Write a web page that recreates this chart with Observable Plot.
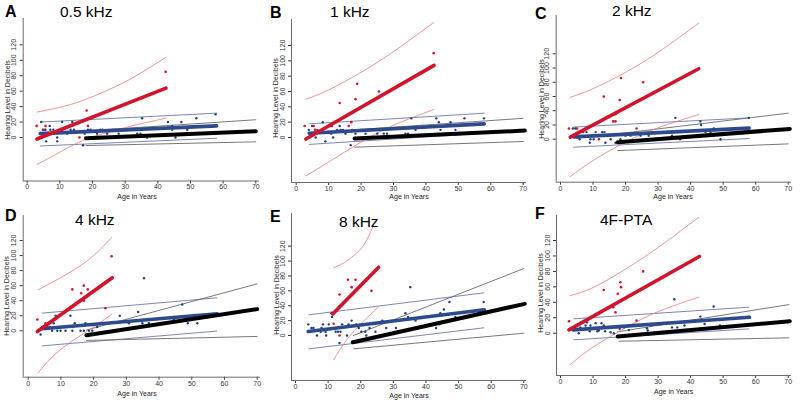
<!DOCTYPE html>
<html>
<head>
<meta charset="utf-8">
<script src="https://cdn.jsdelivr.net/npm/d3@7"></script>
<script src="https://cdn.jsdelivr.net/npm/@observablehq/plot@0.6"></script>
<style>
  html, body { margin: 0; padding: 0; background: #fff; }
  #wrap { position: relative; width: 800px; height: 400px; overflow: hidden; background: #fff;
          font-family: "Liberation Sans", Arial, sans-serif; }
  .panel { position: absolute; height: 200px; }
  .panel svg { position: absolute; left: 0; top: 0; }
  .lbl { position: absolute; white-space: nowrap; line-height: 1; color: #000; }
  .letter { font-weight: bold; font-size: 16px; }
  .sub { font-size: 15.5px; }
  .xt { font-size: 7px; color: #222; transform: translate(-50%, -50%); }
  .yt { font-size: 7px; color: #222; transform: translate(-50%, -50%) rotate(-90deg); }
</style>
</head>
<body>
<div id="wrap"></div>
<script>
// ---------- labels / ticks ----------
const panelIds = ["A", "B", "C", "D", "E", "F"];
const panelTitles = ["0.5  kHz", "1 kHz", "2 kHz", "4 kHz", "8 kHz", "4F-PTA"];
const xTitle = "Age in Years";
const yTitle = "Hearing Level in Decibels";
const xTicks = [0, 10, 20, 30, 40, 50, 60, 70];
const yTicks = [0, 20, 40, 60, 80, 100, 120];

// ---------- Panel A (0.5 kHz) : [age, dB] ----------
const A_red = [[2.9,15],[5.6,15],[5.2,10],[6.1,5],[16,0],[18.2,35],[18.6,15],[23,10],[42.4,85]];
const A_blue = [[4.3,20],[4.8,10],[5.6,10],[5.8,-5],[6.9,15],[7.1,10],[8,10],[8.2,5],[9.2,-5],[9.2,0],[10.7,20],[12.2,5],[13.3,10],[13.8,20],[14.3,10],[17.1,-10],[17.6,5],[18.6,10],[19.4,10],[21.4,5],[22.4,10],[24.5,5],[28,5],[33.7,5],[34.7,5],[35.2,25],[36.7,0],[43.1,20],[44.4,15],[44.4,10],[45.4,0],[47.2,20],[49,10],[51.8,25],[57.7,30]];
const A_redFit = [[3,-2],[42.5,64]];
const A_redHi = [[3,33],[10,39],[17,48],[25,62],[33,79],[42.5,104]];
const A_redLo = [[3,-35],[10,-19],[17,-4],[25,7],[33,16],[42.5,25]];
const A_blueFit = [[4,5],[58,15]];
const A_blueHi = [[4,20],[58,31.5]];
const A_blueLo = [[4,-11],[58,-1]];
const A_blackFit = [[18,-1],[70,8.2]];
const A_blackHi = [[18,8.5],[70,23]];
const A_blackLo = [[18,-10.4],[70,-5.6]];

// ---------- Panel B (1 kHz) ----------
const B_red = [[2.6,15],[5.4,15],[5.8,10],[11,15],[13.4,45],[16.2,15],[17,20],[18.3,50],[18.8,70],[25.5,60],[42.4,110]];
const B_blue = [[3.9,10],[4.2,5],[4.9,15],[6,0],[6.5,10],[8.2,20],[9,-5],[10.6,15],[10.8,5],[11.4,0],[12.6,10],[13.4,15],[13.7,10],[14.4,10],[15.2,5],[16.8,-10],[17.3,10],[18.3,5],[19.8,10],[21.4,5],[23.4,10],[25,5],[27,5],[28,5],[33.7,5],[34.5,5],[35.5,25],[36.8,10],[43.2,25],[44,20],[44.5,10],[47.6,20],[49.1,10],[51.9,25],[57.9,25]];
const B_redFit = [[3,-2],[42.5,94]];
const B_redHi = [[3,50],[10,62],[20,85],[30,112],[42.4,150]];
const B_redLo = [[3,-50],[10,-32],[20,-6],[30,16],[42.4,36.5]];
const B_blueFit = [[4,5.6],[58,17.8]];
const B_blueHi = [[4,17.8],[58,31.7]];
const B_blueLo = [[4,-9],[58,5.6]];
const B_blackFit = [[18,-1.3],[70.5,9]];
const B_blackHi = [[18,10],[70,25]];
const B_blackLo = [[18,-12.6],[70,-5.2]];

// ---------- Panel C (2 kHz) ----------
const C_red = [[2.6,15],[5.1,15],[5.4,10],[11.8,0],[13.3,60],[16.2,25],[16.9,25],[16.9,35],[18.2,55],[18.6,86],[23.4,15],[25.4,80]];
const C_blue = [[3.8,15],[4.6,15],[5.3,2],[5.9,0],[7,10],[8,10],[9,-5],[9.2,0],[10.2,0],[10.8,10],[12.8,10],[13.5,10],[13.8,-5],[15.4,0],[16.9,-5],[18.4,0],[20,5],[21.5,5],[24.6,5],[27.1,5],[34.3,5],[35.3,30],[36.7,0],[43,25],[43.2,20],[44.6,10],[46.1,10],[47.1,15],[49.2,0],[57.9,30]];
const C_redFit = [[3,3],[42.5,99]];
const C_redHi = [[3,59],[10,71],[20,94],[30,122],[42.5,163]];
const C_redLo = [[3,-52.5],[10,-30],[20,-4],[30,16],[42.5,34.7]];
const C_blueFit = [[4,3.3],[58,15.5]];
const C_blueHi = [[4,17],[58,30]];
const C_blueLo = [[4,-11.2],[58,0.9]];
const C_blackFit = [[17.6,-4.2],[70.5,14.5]];
const C_blackHi = [[17.6,7.6],[70,36.6]];
const C_blackLo = [[17.6,-16],[70,-6.6]];

// ---------- Panel D (4 kHz) ----------
const D_red = [[2.8,15],[4.8,5],[5.3,10],[13.5,55],[13.8,5],[16.2,50],[17,60],[17,40],[18.2,55],[23.6,30],[25.5,99]];
const D_blue = [[3.8,-5],[4.3,5],[5.8,5],[6.5,5],[7.3,0],[7.8,10],[8.4,20],[8.9,0],[9.9,0],[11.4,0],[12.9,20],[13.5,0],[14.2,10],[16,0],[17,0],[17.5,10],[18.6,0],[19.6,0],[21.1,5],[22.1,10],[28,20],[30.8,10],[33.6,25],[34.9,10],[35.4,70],[36.9,10],[44.5,15],[47.1,35],[48.8,10],[51.7,10]];
const D_redFit = [[2.8,-1],[25.7,70.4]];
const D_redHi = [[3,54.5],[8,66],[14,81],[20,100],[25.5,124]];
const D_redLo = [[3,-56],[8,-32],[14,-12],[20,5],[25.5,22]];
const D_blueFit = [[4.3,2.7],[57.8,22.6]];
const D_blueHi = [[4.3,23.5],[57.6,43.8]];
const D_blueLo = [[4.3,-20],[57.6,-0.4]];
const D_blackFit = [[17.8,-5.8],[70,28.8]];
const D_blackHi = [[17.8,1],[70,62.4]];
const D_blackLo = [[17.8,-12.8],[70,-7.5]];

// ---------- Panel E (8 kHz) ----------
const E_red = [[11.7,15.7],[13.5,0],[13.5,55],[16.1,75],[17.2,65],[18.4,75],[23.3,60]];
const E_blue = [[3.9,15],[4.9,10],[5.5,10],[6.6,0],[7.7,5],[8,10],[8.4,15],[9.2,5],[9.4,0],[10.2,15],[11,30],[11.2,25],[12.3,5],[13,5],[13.5,-10],[13.8,5],[14.3,15],[15.8,0],[16.3,15],[17.2,20],[18.6,15],[19.4,10],[20.2,5],[21.4,5],[21.7,0],[22.7,10],[24.5,5],[26.6,20],[27.8,10],[30.8,10],[33.7,30],[34.5,25],[35.2,65],[36.8,20],[43.1,10],[44.1,15],[44.4,30],[45.5,35],[47.2,45],[49,25],[57.7,45]];
const E_redFit = [[11.4,29],[25.5,91.8]];
const E_redHi = [[11.7,91],[15,98],[18,108],[21,122],[23.7,146]];
const E_redLo = [[11.7,-32.7],[15,-10],[18,6],[21.5,22],[25.3,38]];
const E_blueFit = [[3.9,5.4],[57.9,34.5]];
const E_blueHi = [[4.1,27.8],[57.7,57.3]];
const E_blueLo = [[4.1,-17.9],[57.7,10.3]];
const E_blackFit = [[17.6,-9],[70.3,42.5]];
const E_blackHi = [[17.8,0],[70,90]];
const E_blackLo = [[17.9,-17.9],[70,3.1]];

// ---------- Panel F (4F-PTA) ----------
const F_red = [[2.6,15.5],[5.1,10],[13.3,56],[13.3,8.6],[16.2,33.7],[16.9,27],[17.6,51],[18.4,66],[18.6,59.6],[23.4,16.4],[25.4,80]];
const F_blue = [[4.1,7.5],[4.9,10],[5.1,5],[5.6,0],[6.1,7.5],[7.2,4],[7.7,10],[8.2,14],[9,2.5],[9.2,10],[10.8,13],[11.3,2.5],[11.8,3.5],[12.6,13],[13.3,10],[13.7,2.5],[15.4,1.3],[16.4,0],[17.2,7.5],[18.2,5.6],[19.5,7.5],[21,4],[23.4,10],[26.6,6.5],[26.8,3.5],[27.7,10],[34.3,7.5],[35,44],[35.9,7.5],[38.1,10],[43,21.5],[44.3,12],[47.1,34.5],[49,10],[57.9,21.5]];
const F_redFit = [[2.6,4.3],[42.7,99.3]];
const F_redHi = [[3,48.8],[10,59],[20,83],[30,111],[42.5,150]];
const F_redLo = [[3,-40.6],[10,-18],[20,7],[30,28],[42.5,46.6]];
const F_blueFit = [[3.9,4.3],[58.1,20.7]];
const F_blueHi = [[4.1,18.6],[57.9,33.7]];
const F_blueLo = [[4.1,-8.6],[57.9,5.6]];
const F_blackFit = [[17.6,-4.3],[70.5,15.5]];
const F_blackHi = [[17.6,1.8],[70.2,37]];
const F_blackLo = [[17.9,-10.4],[70.2,-6]];

const panelData = {
  A: {red: A_red, blue: A_blue, redFit: A_redFit, redHi: A_redHi, redLo: A_redLo, blueFit: A_blueFit, blueHi: A_blueHi, blueLo: A_blueLo, blackFit: A_blackFit, blackHi: A_blackHi, blackLo: A_blackLo},
  B: {red: B_red, blue: B_blue, redFit: B_redFit, redHi: B_redHi, redLo: B_redLo, blueFit: B_blueFit, blueHi: B_blueHi, blueLo: B_blueLo, blackFit: B_blackFit, blackHi: B_blackHi, blackLo: B_blackLo},
  C: {red: C_red, blue: C_blue, redFit: C_redFit, redHi: C_redHi, redLo: C_redLo, blueFit: C_blueFit, blueHi: C_blueHi, blueLo: C_blueLo, blackFit: C_blackFit, blackHi: C_blackHi, blackLo: C_blackLo},
  D: {red: D_red, blue: D_blue, redFit: D_redFit, redHi: D_redHi, redLo: D_redLo, blueFit: D_blueFit, blueHi: D_blueHi, blueLo: D_blueLo, blackFit: D_blackFit, blackHi: D_blackHi, blackLo: D_blackLo},
  E: {red: E_red, blue: E_blue, redFit: E_redFit, redHi: E_redHi, redLo: E_redLo, blueFit: E_blueFit, blueHi: E_blueHi, blueLo: E_blueLo, blackFit: E_blackFit, blackHi: E_blackHi, blackLo: E_blackLo},
  F: {red: F_red, blue: F_blue, redFit: F_redFit, redHi: F_redHi, redLo: F_redLo, blueFit: F_blueFit, blueHi: F_blueHi, blueLo: F_blueLo, blackFit: F_blackFit, blackHi: F_blackHi, blackLo: F_blackLo}
};

// ---------- layout (pixels inside each panel) ----------
const layout = [
  {ox: 0,   oy: 0,   w: 265, yaxis: 22.7, x0: 26.7, x70: 255.3, y0: 137,   y120: 44.3, xaxis: 180.5, top: 18, right: 259, letterBase: 17.5, subX: 60, subBase: 16.8, xlabX: 137, xlabY: 195.5, ylabX: 6.5, ylabY: 100},
  {ox: 265, oy: 0,   w: 265, yaxis: 26,   x0: 30.7, x70: 257.7, y0: 137,   y120: 45,   xaxis: 182,   top: 19, right: 261, letterBase: 18.3, subX: 65, subBase: 16.7, xlabX: 144, xlabY: 196.3, ylabX: 10,  ylabY: 98.3},
  {ox: 530, oy: 0,   w: 270, yaxis: 25.7, x0: 30,   x70: 257.7, y0: 138.7, y120: 53.3, xaxis: 181.7, top: 15, right: 261, letterBase: 19.3, subX: 82, subBase: 16,   xlabX: 143, xlabY: 196,   ylabX: 11,  ylabY: 99},
  {ox: 0,   oy: 200, w: 265, yaxis: 22.7, x0: 27.7, x70: 256.7, y0: 130.3, y120: 40,   xaxis: 176.7, top: 15, right: 260, letterBase: 22,   subX: 75, subBase: 25,   xlabX: 137, xlabY: 192.5, ylabX: 6,   ylabY: 95.8},
  {ox: 265, oy: 200, w: 265, yaxis: 26,   x0: 30,   x70: 258.3, y0: 135,   y120: 45.7, xaxis: 180,   top: 13, right: 261, letterBase: 22.7, subX: 74, subBase: 26.7, xlabX: 144, xlabY: 194.5, ylabX: 10.5, ylabY: 95},
  {ox: 530, oy: 200, w: 270, yaxis: 26,   x0: 30,   x70: 257.7, y0: 132.7, y120: 40,   xaxis: 175,   top: 15, right: 261, letterBase: 20,   subX: 70, subBase: 25,   xlabX: 143.7, xlabY: 190.5, ylabX: 10, ylabY: 93.3}
];

const COL = {
  red: "#d0142c", redThin: "#e8787c",
  blue: "#2c4a8c", bluePt: "#203c7c", blueThin: "#5a689e",
  black: "#000000", blackThin: "#555555", axis: "#6a6a6a", tickText: "#333333"
};

const wrap = document.getElementById("wrap");
const H = 200;
const px = d => d[0], py = d => d[1];

panelIds.forEach((id, i) => {
  const L = layout[i];
  const D = panelData[id];
  const kx = (L.x70 - L.x0) / 70, ky = (L.y0 - L.y120) / 120;
  const xa = (L.yaxis - L.x0) / kx, xb = 70 + (L.right - L.x70) / kx;
  const ya = -(L.xaxis - L.y0) / ky, yb = (L.y0 - L.top) / ky;

  const div = document.createElement("div");
  div.className = "panel";
  div.style.left = L.ox + "px";
  div.style.top = L.oy + "px";
  div.style.width = L.w + "px";

  const chart = Plot.plot({
    width: L.w, height: H,
    marginLeft: L.yaxis, marginRight: L.w - L.right,
    marginTop: L.top, marginBottom: H - L.xaxis,
    style: {background: "transparent", fontFamily: "Liberation Sans, Arial, sans-serif", fontSize: "7px", color: COL.tickText},
    x: {domain: [xa, xb], ticks: xTicks, tickSize: 3, tickPadding: 0.5, tickFormat: d => String(d), label: null},
    y: {domain: [ya, yb], ticks: yTicks, tickSize: 3, tickFormat: () => "", label: null},
    marks: [
      Plot.ruleX([xa], {stroke: COL.axis, strokeWidth: 1}),
      Plot.ruleY([ya], {stroke: COL.axis, strokeWidth: 1}),
      Plot.text(yTicks, {x: () => xa, y: d => d, text: d => String(d), rotate: -90, dx: -9, fontSize: 7, fill: COL.tickText}),
      // confidence bands
      Plot.line(D.blackHi, {x: px, y: py, stroke: COL.blackThin, strokeWidth: 0.8}),
      Plot.line(D.blackLo, {x: px, y: py, stroke: COL.blackThin, strokeWidth: 0.8}),
      Plot.line(D.blueHi, {x: px, y: py, stroke: COL.blueThin, strokeWidth: 0.8}),
      Plot.line(D.blueLo, {x: px, y: py, stroke: COL.blueThin, strokeWidth: 0.8}),
      Plot.line(D.redHi, {x: px, y: py, stroke: COL.redThin, strokeWidth: 0.8, curve: "natural"}),
      Plot.line(D.redLo, {x: px, y: py, stroke: COL.redThin, strokeWidth: 0.8, curve: "natural"}),
      // observations
      Plot.dot(D.blue, {x: px, y: py, r: 1.2, fill: COL.bluePt, stroke: null}),
      Plot.dot(D.red, {x: px, y: py, r: 1.3, fill: COL.red, stroke: null}),
      // fitted lines
      Plot.line(D.blueFit, {x: px, y: py, stroke: COL.blue, strokeWidth: 3.6}),
      Plot.line(D.blackFit, {x: px, y: py, stroke: COL.black, strokeWidth: 4}),
      Plot.line(D.redFit, {x: px, y: py, stroke: COL.red, strokeWidth: 3.6})
    ]
  });
  div.appendChild(chart);

  const addLabel = (text, cls, css) => {
    const s = document.createElement("div");
    s.className = "lbl " + cls;
    s.textContent = text;
    Object.assign(s.style, css);
    div.appendChild(s);
  };
  addLabel(id, "letter", {left: "5px", top: (L.letterBase - 0.85 * 16) + "px"});
  addLabel(panelTitles[i], "sub", {left: L.subX + "px", top: (L.subBase - 0.85 * 15.5) + "px"});
  addLabel(xTitle, "xt", {left: L.xlabX + "px", top: L.xlabY + "px"});
  addLabel(yTitle, "yt", {left: L.ylabX + "px", top: L.ylabY + "px"});

  wrap.appendChild(div);
});
</script>
</body>
</html>
